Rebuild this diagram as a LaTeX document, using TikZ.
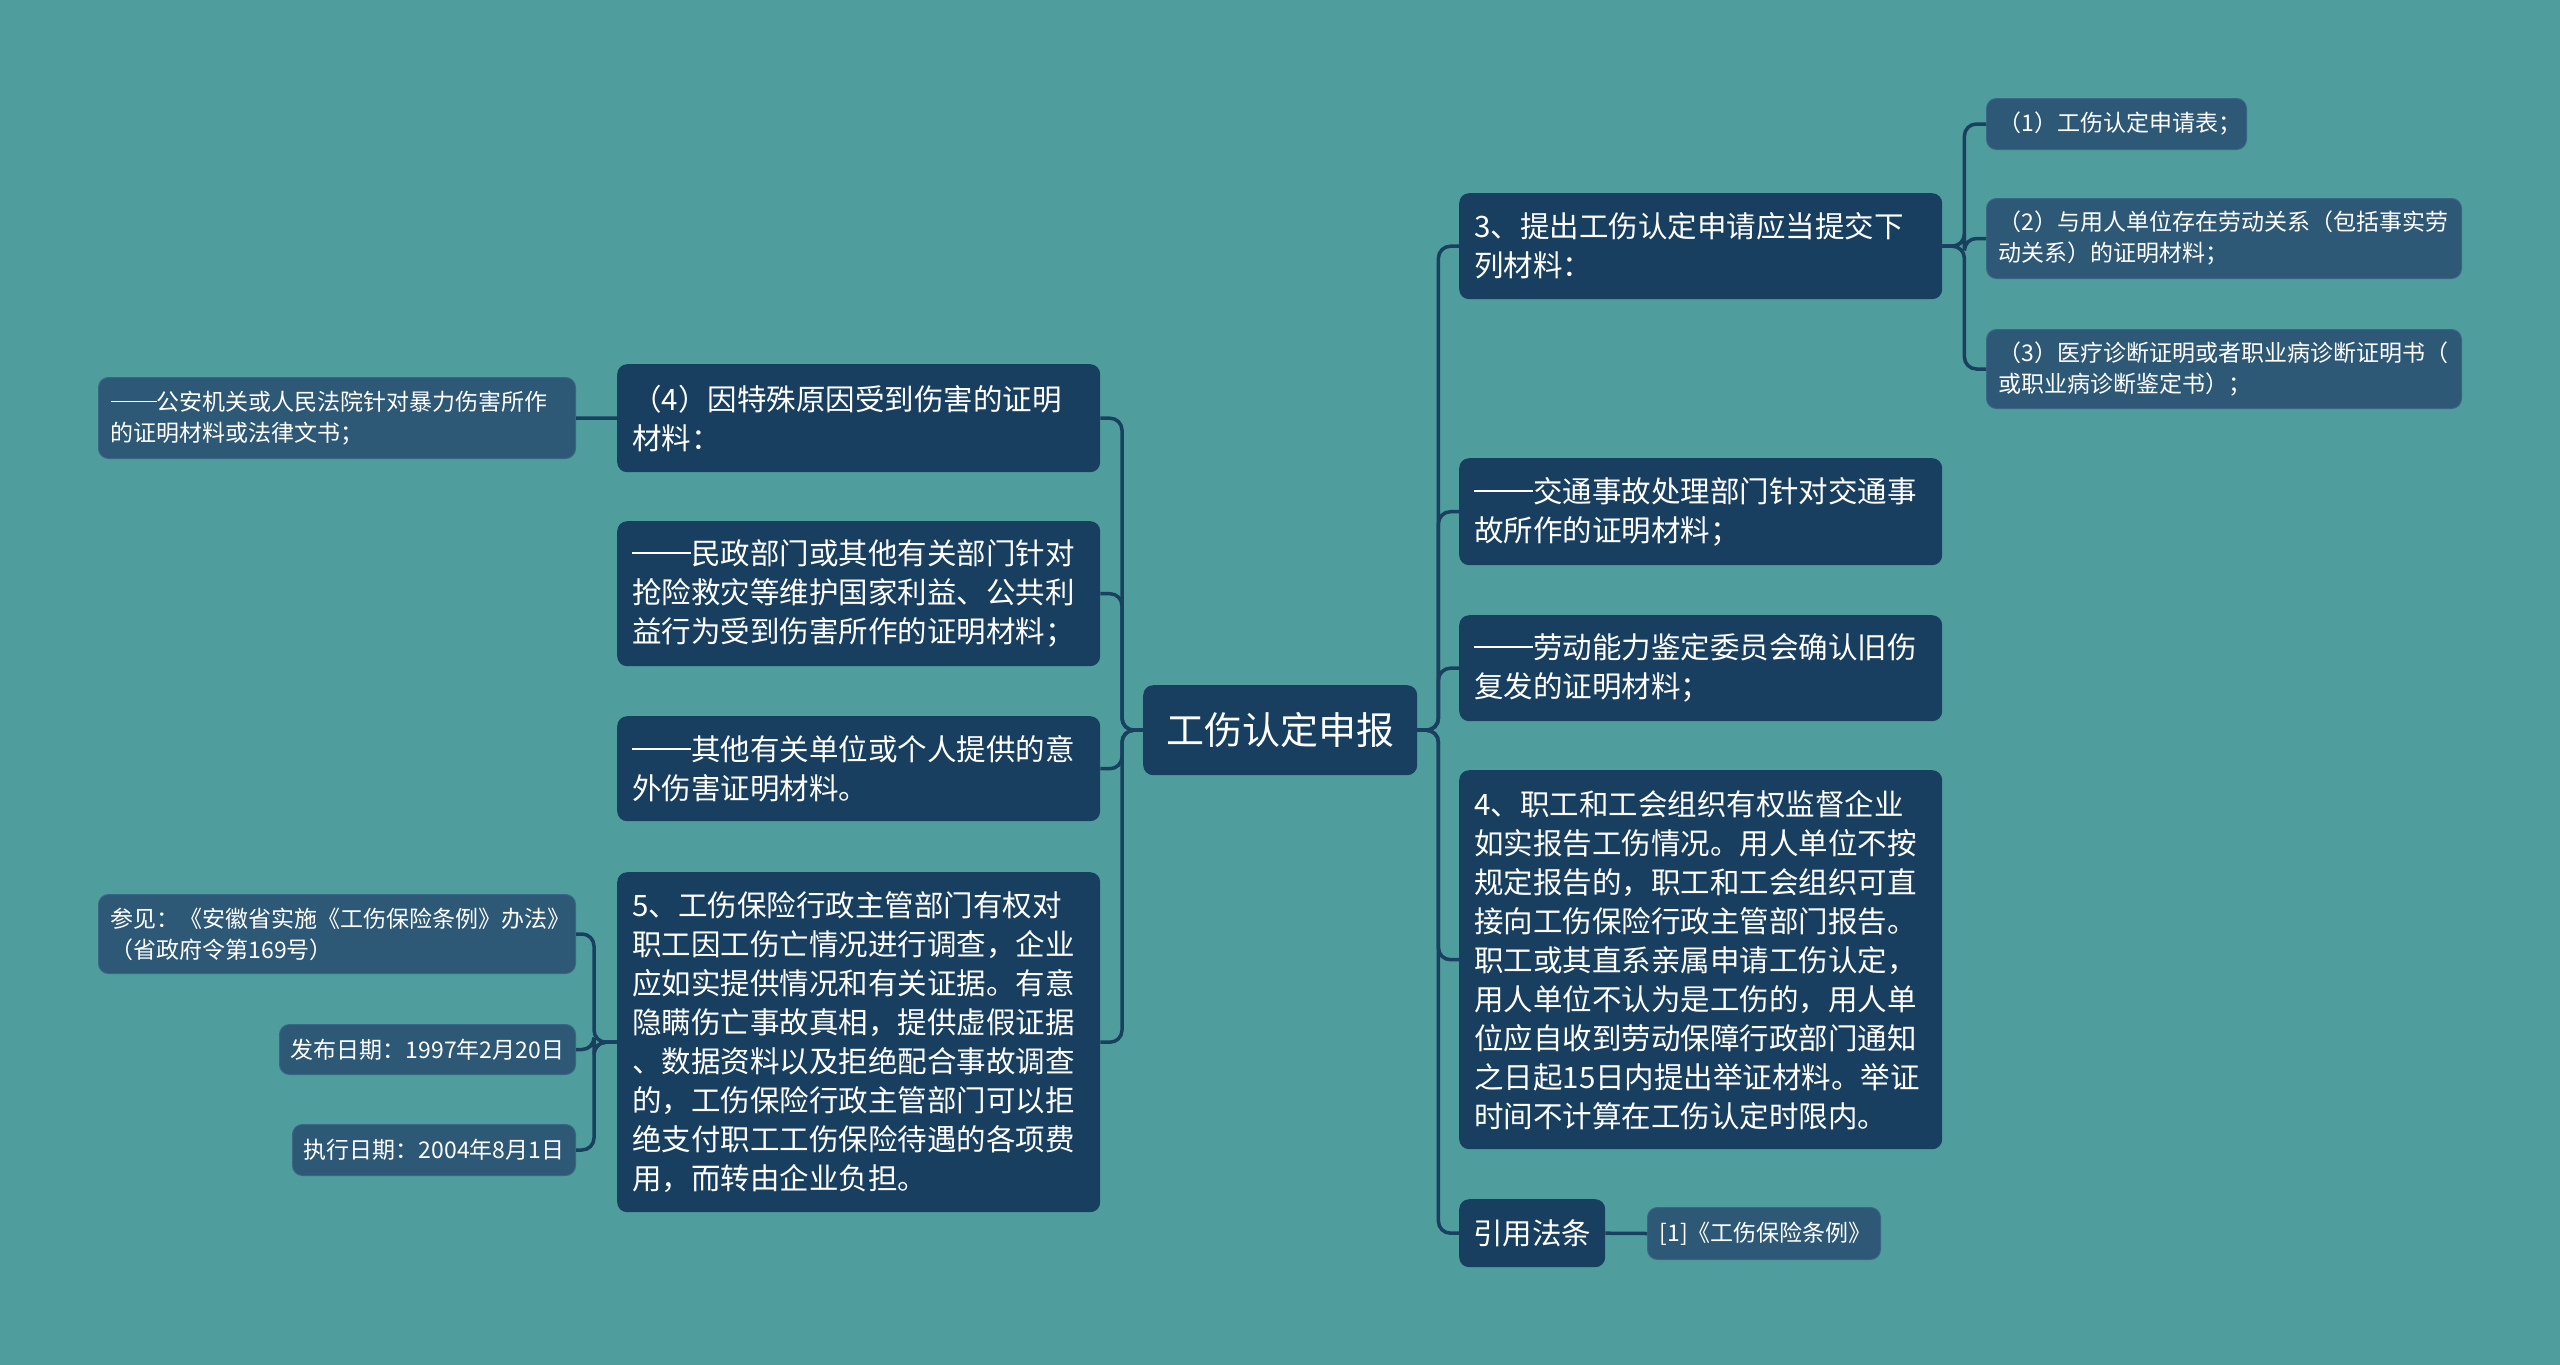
\documentclass[tikz,border=0pt]{standalone}
\usepackage{fontspec}
\newfontfamily\cjk{Noto Sans CJK SC}
\newcommand\cjdash{\raisebox{0.36em}{\rule{2em}{0.06em}}}
\definecolor{bgc}{HTML}{4F9D9D}
\definecolor{navy}{HTML}{183F5F}
\definecolor{subc}{HTML}{2D5876}
\definecolor{subb}{HTML}{3A6686}
\definecolor{linec}{HTML}{1A405F}
\tikzset{
  base/.style={rounded corners=10pt, anchor=north west, text=white, inner ysep=0pt},
  rootbox/.style={base, fill=navy, inner xsep=0pt, align=center, font=\cjk\fontsize{38}{46}\selectfont},
  mainbox/.style={base, fill=navy, inner xsep=15pt, align=left, font=\cjk\fontsize{29.5}{39}\selectfont},
  subbox/.style={base, fill=subc, draw=subb, line width=1pt, inner xsep=12pt, align=left, font=\cjk\fontsize{23}{31}\selectfont},
  conn/.style={draw=linec, line width=3.5pt, rounded corners=12pt},
}
\begin{document}
\begin{tikzpicture}[x=1pt,y=-1pt]
\useasboundingbox (0,0) rectangle (2560,1365);
\fill[bgc] (0,0) rectangle (2560,1365);

% root
\node[rootbox, minimum width=274pt, minimum height=90pt] (root) at (1143,685) {工伤认定申报};

% right side
\node[mainbox, minimum width=483pt, minimum height=106pt, text width=453pt] (r3) at (1459,193) {3、提出工伤认定申请应当提交下\\列材料：};
\node[subbox, minimum width=260pt, minimum height=51pt, text width=236pt] (r3a) at (1986,98) {（1）工伤认定申请表；};
\node[subbox, minimum width=475pt, minimum height=80pt, text width=451pt] (r3b) at (1986,198) {（2）与用人单位存在劳动关系（包括事实劳\\动关系）的证明材料；};
\node[subbox, minimum width=475pt, minimum height=79pt, text width=451pt] (r3c) at (1986,329) {（3）医疗诊断证明或者职业病诊断证明书（\\或职业病诊断鉴定书）；};
\node[mainbox, minimum width=483pt, minimum height=107pt, text width=453pt] (rj) at (1459,458) {\cjdash 交通事故处理部门针对交通事\\故所作的证明材料；};
\node[mainbox, minimum width=483pt, minimum height=106pt, text width=453pt] (rl) at (1459,615) {\cjdash 劳动能力鉴定委员会确认旧伤\\复发的证明材料；};
\node[mainbox, minimum width=483pt, minimum height=379pt, text width=453pt] (r4) at (1459,770) {4、职工和工会组织有权监督企业\\如实报告工伤情况。用人单位不按\\规定报告的，职工和工会组织可直\\接向工伤保险行政主管部门报告。\\职工或其直系亲属申请工伤认定，\\用人单位不认为是工伤的，用人单\\位应自收到劳动保障行政部门通知\\之日起15日内提出举证材料。举证\\时间不计算在工伤认定时限内。};
\node[mainbox, inner xsep=0pt, align=center, minimum width=146pt, minimum height=68pt] (rc) at (1459,1199) {引用法条};
\node[subbox, minimum width=233pt, minimum height=52pt, text width=209pt] (rc1) at (1647,1207) {[1]《工伤保险条例》};

% left side
\node[mainbox, minimum width=483pt, minimum height=108pt, text width=453pt] (l4) at (617,364) {（4）因特殊原因受到伤害的证明\\材料：};
\node[subbox, minimum width=477pt, minimum height=81pt, text width=453pt] (la) at (98,377) {\cjdash 公安机关或人民法院针对暴力伤害所作\\的证明材料或法律文书；};
\node[mainbox, minimum width=483pt, minimum height=145pt, text width=453pt] (lm) at (617,521) {\cjdash 民政部门或其他有关部门针对\\抢险救灾等维护国家利益、公共利\\益行为受到伤害所作的证明材料；};
\node[mainbox, minimum width=483pt, minimum height=105pt, text width=453pt] (lo) at (617,716) {\cjdash 其他有关单位或个人提供的意\\外伤害证明材料。};
\node[mainbox, minimum width=483pt, minimum height=340pt, text width=453pt] (l5) at (617,872) {5、工伤保险行政主管部门有权对\\职工因工伤亡情况进行调查，企业\\应如实提供情况和有关证据。有意\\隐瞒伤亡事故真相，提供虚假证据\\、数据资料以及拒绝配合事故调查\\的，工伤保险行政主管部门可以拒\\绝支付职工工伤保险待遇的各项费\\用，而转由企业负担。};
\node[subbox, minimum width=477pt, minimum height=79pt, text width=453pt] (s1) at (98,894) {参见：《安徽省实施《工伤保险条例》办法》\\（省政府令第169号）};
\node[subbox, inner xsep=0pt, align=center, minimum width=296pt, minimum height=50pt] (s2) at (279,1024) {发布日期：1997年2月20日};
\node[subbox, inner xsep=0pt, align=center, minimum width=283pt, minimum height=51pt] (s3) at (292,1124) {执行日期：2004年8月1日};

% connectors right
\foreach \c in {r3,rj,rl,r4,rc}
  \draw[conn] (root.east) -- ++(21,0) |- (\c.west);
\foreach \c in {r3a,r3b,r3c}
  \draw[conn] (r3.east) -- ++(22,0) |- (\c.west);
\draw[conn] (rc.east) -- (rc1.west);

% connectors left
\foreach \c in {l4,lm,lo,l5}
  \draw[conn] (root.west) -- ++(-21,0) |- (\c.east);
\draw[conn] (l4.west) -- (la.east);
\foreach \c in {s1,s2,s3}
  \draw[conn] (l5.west) -- ++(-23,0) |- (\c.east);
\end{tikzpicture}
\end{document}
